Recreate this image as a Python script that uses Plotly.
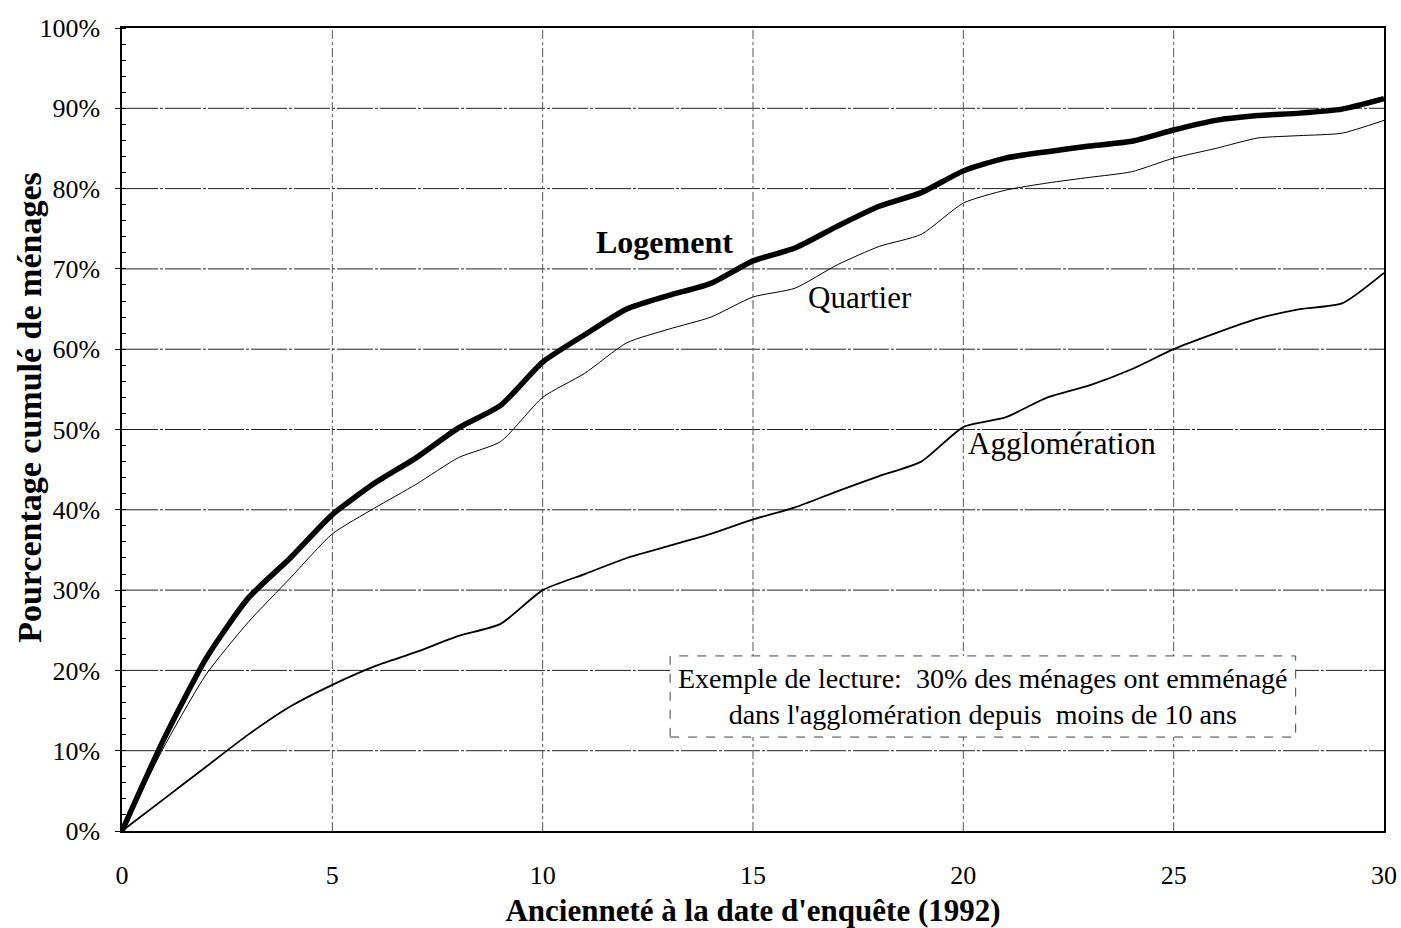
import plotly.graph_objects as go

years = list(range(0, 31))
logement = [0, 11.5, 21.5, 29, 34, 39.4, 43.3, 46.5, 50.2, 53, 58.4, 61.8, 65, 66.7, 68.2, 71,
            72.6, 75.3, 77.8, 79.5, 82.2, 83.8, 84.6, 85.3, 85.9, 87.3, 88.5, 89.1, 89.4, 89.9, 91.2]
quartier = [0, 10.5, 19.5, 26, 31.5, 37, 40.2, 43.2, 46.5, 48.5, 54, 57, 60.8, 62.5, 64, 66.5,
            67.6, 70.5, 72.8, 74.3, 78.2, 79.8, 80.7, 81.4, 82.1, 83.8, 85, 86.3, 86.6, 86.9, 88.5]
agglo = [0, 4, 8, 12, 15.5, 18.2, 20.5, 22.3, 24.3, 25.8, 30, 32, 34, 35.5, 37, 38.8,
         40.3, 42.3, 44.2, 46, 50.3, 51.5, 54, 55.5, 57.5, 60, 62, 63.8, 65, 65.7, 69.5]

series_names = ["Logement", "Quartier", "Agglomération"]
x_ticks = [0, 5, 10, 15, 20, 25, 30]
y_ticks = list(range(0, 101, 10))
y_ticktext = [f"{v}%" for v in y_ticks]

FONT = "Liberation Serif"

fig = go.Figure()
fig.add_trace(go.Scatter(x=years, y=agglo, mode="lines", name=series_names[2],
                         line=dict(color="black", width=1.8, shape="spline", smoothing=0.6)))
fig.add_trace(go.Scatter(x=years, y=quartier, mode="lines", name=series_names[1],
                         line=dict(color="black", width=1, shape="spline", smoothing=0.6)))
fig.add_trace(go.Scatter(x=years, y=logement, mode="lines", name=series_names[0],
                         line=dict(color="black", width=5.5, shape="spline", smoothing=0.6)))

# horizontal grid lines (dash-dot look, mostly continuous)
for yv in y_ticks[1:-1]:
    fig.add_shape(type="line", x0=0, x1=30, y0=yv, y1=yv, xref="x", yref="y",
                  line=dict(color="#222", width=1, dash="36px,2px,3px,2px"), layer="below")
# vertical dashed grid lines
for xv in x_ticks[1:-1]:
    fig.add_shape(type="line", x0=xv, x1=xv, y0=0, y1=100, xref="x", yref="y",
                  line=dict(color="#555", width=1, dash="dashdot"), layer="below")

# reading-example box
fig.add_shape(type="rect", x0=13.03, x1=27.9, y0=11.7, y1=21.8, xref="x", yref="y",
              line=dict(color="#444", width=1, dash="dash"), fillcolor="white", layer="above")
fig.add_annotation(x=20.47, y=16.75, xref="x", yref="y", showarrow=False,
                   text="Exemple de lecture:  30% des ménages ont emménagé<br>dans l'agglomération depuis  moins de 10 ans",
                   font=dict(family=FONT, size=28, color="black"), align="center")

fig.add_annotation(x=12.9, y=73.3, xref="x", yref="y", showarrow=False,
                   text="<b>Logement</b>", font=dict(family=FONT, size=32, color="black"))
fig.add_annotation(x=17.54, y=66.4, xref="x", yref="y", showarrow=False,
                   text="Quartier", font=dict(family=FONT, size=31, color="black"))
fig.add_annotation(x=22.34, y=48.3, xref="x", yref="y", showarrow=False,
                   text="Agglomération", font=dict(family=FONT, size=31, color="black"))

# y-axis title placed as annotation
fig.add_annotation(x=-0.0729, y=0.527, xref="paper", yref="paper", showarrow=False,
                   xanchor="center", yanchor="middle",
                   text="<b>Pourcentage cumulé de ménages</b>", textangle=-90,
                   font=dict(family=FONT, size=34, color="black"))

fig.update_layout(
    width=1401, height=928,
    paper_bgcolor="white", plot_bgcolor="white",
    margin=dict(l=122, r=17, t=28, b=97, autoexpand=False),
    showlegend=False,
    font=dict(family=FONT, size=26, color="black"),
)
fig.update_xaxes(range=[0, 30], tickvals=x_ticks, showgrid=False, zeroline=False,
                 showline=True, linecolor="black", linewidth=1.5, mirror=True,
                 ticks="", ticklabelstandoff=20, tickfont=dict(family=FONT, size=26),
                 title=dict(text="<b>Ancienneté à la date d'enquête (1992)</b>",
                            font=dict(family=FONT, size=31), standoff=10))
fig.update_yaxes(range=[0, 100], tickvals=y_ticks, ticktext=y_ticktext, showgrid=False,
                 zeroline=False,
                 showline=True, linecolor="black", linewidth=1.5, mirror=True,
                 ticks="outside", ticklen=5, tickcolor="black", ticklabelstandoff=10,
                 minor=dict(dtick=2, ticks="inside", ticklen=4, tickcolor="black", showgrid=False),
                 tickfont=dict(family=FONT, size=26))

fig.write_html("out.html", post_script="document.body.style.margin='0';",
               config={"displayModeBar": False})
